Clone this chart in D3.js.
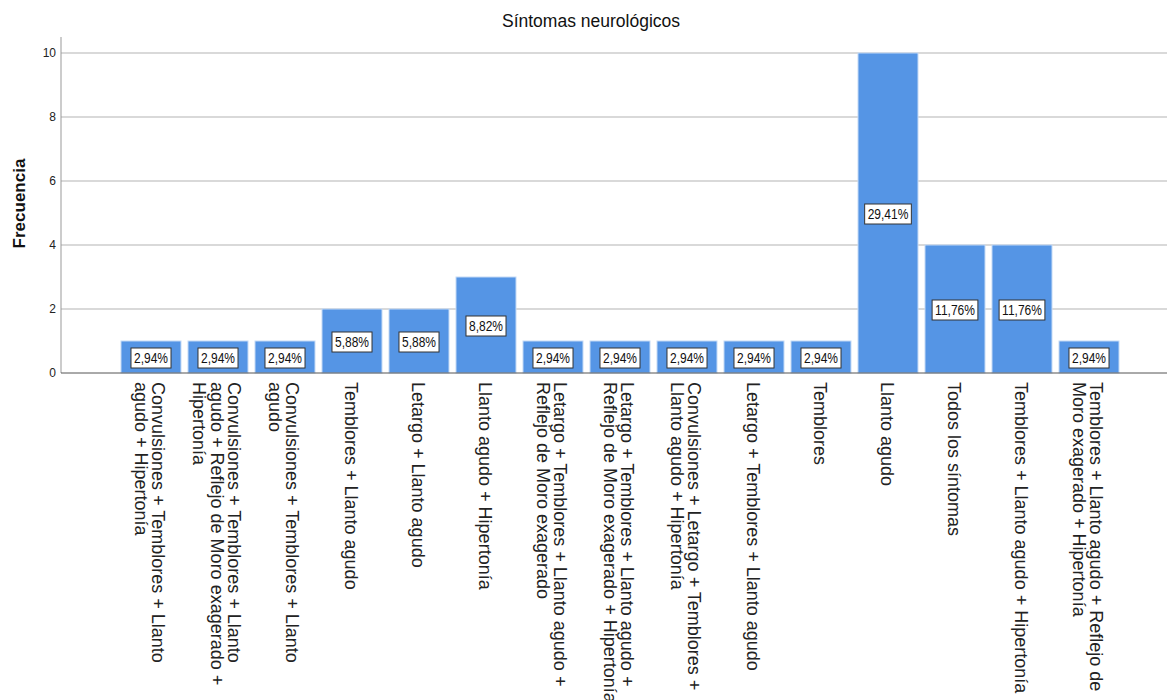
<!DOCTYPE html>
<html>
<head>
<meta charset="utf-8">
<script src="https://cdn.jsdelivr.net/npm/d3@7"></script>
<style>
  html, body { margin: 0; padding: 0; background: #fff; }
  svg { display: block; font-family: "Liberation Sans", Arial, sans-serif; }
</style>
</head>
<body>
<svg id="chart" width="1167" height="700"></svg>
<script>
// ---- data ----
const categories = [
  "Convulsiones + Temblores + Llanto\nagudo + Hipertonía",
  "Convulsiones + Temblores + Llanto\nagudo + Reflejo de Moro exagerado +\nHipertonía",
  "Convulsiones + Temblores + Llanto\nagudo",
  "Temblores + Llanto agudo",
  "Letargo + Llanto agudo",
  "Llanto agudo + Hipertonía",
  "Letargo + Temblores + Llanto agudo +\nReflejo de Moro exagerado",
  "Letargo + Temblores + Llanto agudo +\nReflejo de Moro exagerado + Hipertonía",
  "Convulsiones + Letargo + Temblores +\nLlanto agudo + Hipertonía",
  "Letargo + Temblores + Llanto agudo",
  "Temblores",
  "Llanto agudo",
  "Todos los síntomas",
  "Temblores + Llanto agudo + Hipertonía",
  "Temblores + Llanto agudo + Reflejo de\nMoro exagerado + Hipertonía"
];
const values = [1, 1, 1, 2, 2, 3, 1, 1, 1, 1, 1, 10, 4, 4, 1];
const yTicks = [0, 2, 4, 6, 8, 10];
const title = "Síntomas neurológicos";
const yTitle = "Frecuencia";

// ---- layout ----
const svg = d3.select("#chart");
const W = 1167;
const axisX = 61, baseY = 373, topY = 37;

const total = d3.sum(values);
const fmtPct = v => (v / total * 100).toFixed(2).replace(".", ",") + "%";

const x = d3.scaleBand()
  .domain(categories.map((d, i) => i))
  .range([117.5, 1122.5])
  .paddingInner(7 / 67)
  .paddingOuter(3.5 / 67);

const y = d3.scaleLinear().domain([0, 10.5]).range([baseY, topY]);

// gridlines
svg.append("g")
  .selectAll("line")
  .data(yTicks.filter(t => t > 0))
  .join("line")
  .attr("x1", axisX).attr("x2", W)
  .attr("y1", d => y(d)).attr("y2", d => y(d))
  .attr("stroke", "#cccccc").attr("stroke-width", 1.3);

// bars
svg.append("g")
  .selectAll("rect")
  .data(values)
  .join("rect")
  .attr("x", (d, i) => x(i))
  .attr("width", x.bandwidth())
  .attr("y", d => y(d))
  .attr("height", d => baseY - y(d))
  .attr("fill", "#5595e5")
  .attr("stroke", "#c4daf6")
  .attr("stroke-width", 1);

// bar labels
const lab = svg.append("g")
  .selectAll("g")
  .data(values)
  .join("g")
  .attr("transform", (d, i) => `translate(${x(i) + x.bandwidth() / 2},${(y(d) + baseY) / 2 + 1})`);
lab.each(function (d) {
  const g = d3.select(this);
  const t = g.append("text")
    .attr("text-anchor", "middle")
    .attr("dy", "0.36em")
    .attr("font-size", 12)
    .attr("fill", "#111")
    .attr("transform", "scale(1,1.25)")
    .text(fmtPct(d));
  const w = t.node().getComputedTextLength();
  g.insert("rect", "text")
    .attr("x", -w / 2 - 3).attr("y", -10)
    .attr("width", w + 6).attr("height", 20)
    .attr("fill", "#fff")
    .attr("stroke", "#333").attr("stroke-width", 1);
});

// y axis
const yAxis = d3.axisLeft(y).tickValues(yTicks).tickSize(0).tickPadding(5).tickFormat(d3.format("d"));
const gy = svg.append("g").attr("transform", `translate(${axisX},0)`).call(yAxis);
gy.select(".domain").attr("stroke", "#999").attr("d", `M0,${topY}V${baseY}`);
gy.selectAll("text").attr("font-size", 12).attr("fill", "#222")
  .attr("font-family", '"Liberation Sans", Arial, sans-serif');

// x axis
const xAxis = d3.axisBottom(x).tickSize(0).tickFormat(i => categories[i]);
const gx = svg.append("g").attr("transform", `translate(0,${baseY})`).call(xAxis);
gx.select(".domain").attr("d", `M${axisX},0H${W}`).attr("stroke", "#555");
const L = 17.5;
gx.selectAll(".tick text").each(function (i) {
  const t = d3.select(this);
  const lines = categories[i].split("\n");
  const n = lines.length;
  t.text(null)
    .attr("x", null).attr("y", null).attr("dy", null)
    .attr("text-anchor", "start")
    .attr("font-size", 18)
    .attr("fill", "#222")
    .attr("font-family", '"Liberation Sans", Arial, sans-serif')
    .attr("transform", "translate(0,9) rotate(90)");
  lines.forEach((ln, k) => {
    t.append("tspan")
      .attr("x", 0)
      .attr("y", 7.5 - ((n - 1) / 2 - k) * L)
      .text(ln);
  });
});

// titles
svg.append("text")
  .attr("x", 591).attr("y", 27)
  .attr("text-anchor", "middle")
  .attr("font-size", 17.5)
  .attr("fill", "#111")
  .text(title);

svg.append("text")
  .attr("transform", `translate(25,${(155 + 252) / 2}) rotate(-90)`)
  .attr("text-anchor", "middle")
  .attr("font-size", 17)
  .attr("font-weight", "bold")
  .attr("fill", "#111")
  .text(yTitle);
</script>
</body>
</html>
